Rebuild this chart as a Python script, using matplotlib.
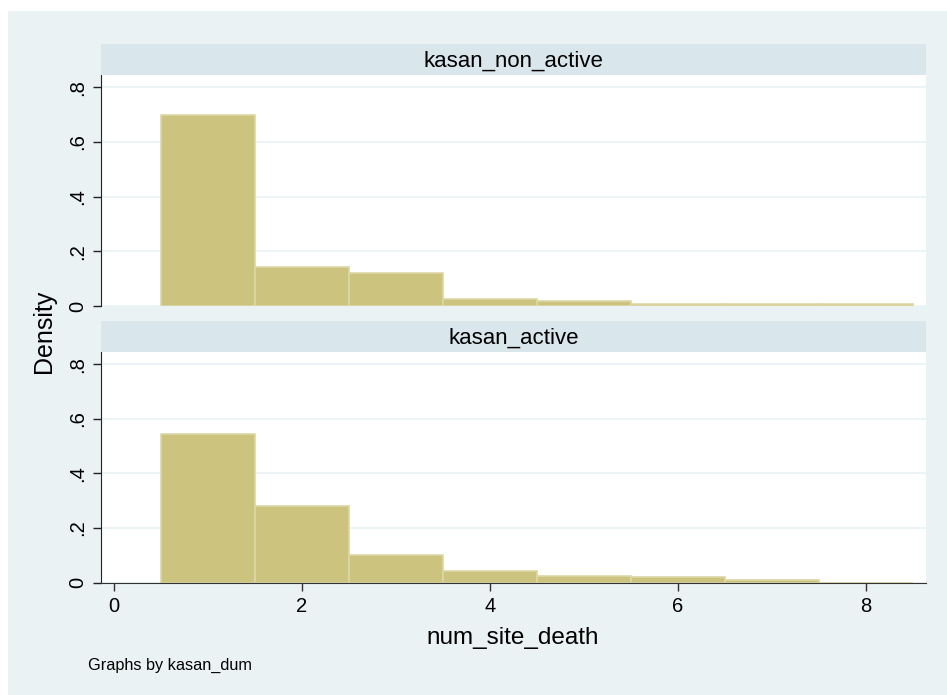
import numpy as np
import matplotlib.pyplot as plt
from matplotlib.patches import Rectangle

# histogram data (density per unit-width bin)
bin_centers = [1, 2, 3, 4, 5, 6, 7, 8]
non_active = [0.697, 0.141, 0.119, 0.027, 0.017, 0.009, 0.008, 0.006]
active = [0.543, 0.280, 0.101, 0.044, 0.023, 0.020, 0.010, 0.0]
panel_titles = ["kasan_non_active", "kasan_active"]
y_ticks = [0, 0.2, 0.4, 0.6, 0.8]
y_labels = ["0", ".2", ".4", ".6", ".8"]
x_ticks = [0, 2, 4, 6, 8]

plt.rcParams['font.family'] = ['Liberation Sans', 'DejaVu Sans']

bg = '#EAF2F3'
strip_col = '#D9E6EB'
bar_col = '#CBC37E'
edge_col = '#DDD7A6'

W, H = 947, 695
fig = plt.figure(figsize=(W / 100, H / 100), dpi=100)
fig.patch.set_facecolor(bg)
# thin white margins on the top and left
fig.patches.append(Rectangle((0, 1 - 11 / H), 1, 11 / H, transform=fig.transFigure,
                             facecolor='white', edgecolor='none', zorder=-10))
fig.patches.append(Rectangle((0, 0), 8 / W, 1, transform=fig.transFigure,
                             facecolor='white', edgecolor='none', zorder=-10))


def px(x0, y0, x1, y1):
    # pixel box (top-left origin) -> figure fraction
    return [x0 / W, 1 - y1 / H, (x1 - x0) / W, (y1 - y0) / H]


panels = [(non_active, (75, 306), (44, 75)), (active, (352, 582.7), (321, 352))]
for i, (vals, (ay0, ay1), (sy0, sy1)) in enumerate(panels):
    ax = fig.add_axes(px(101, ay0, 926, ay1))
    ax.set_facecolor('white')
    ax.bar(bin_centers, vals, width=1.0, color=bar_col, edgecolor=edge_col,
           linewidth=1.2, zorder=2)
    ax.set_xlim(-0.138, 8.638)
    ax.set_ylim(0, 0.845)
    ax.set_yticks(y_ticks)
    ax.set_yticklabels(y_labels, rotation=90, va='center', fontsize=14.5)
    for t in y_ticks:
        ax.axhline(t, color=bg, lw=1.2, zorder=1)
    for s in ['top', 'right']:
        ax.spines[s].set_visible(False)
    ax.spines['left'].set_color('#222222')
    ax.tick_params(axis='y', length=6, width=1, pad=4, color='#222222')
    if i == 0:
        ax.spines['bottom'].set_visible(False)
        ax.set_xticks([])
    else:
        ax.spines['bottom'].set_color('#333333')
        ax.set_xticks(x_ticks)
        ax.tick_params(axis='x', length=6, width=1, labelsize=14.5, pad=4,
                       color='#333333')

    sax = fig.add_axes(px(101, sy0, 926, sy1))
    sax.set_facecolor(strip_col)
    sax.set_xticks([])
    sax.set_yticks([])
    for s in sax.spines.values():
        s.set_visible(False)
    sax.text(0.5, 0.45, panel_titles[i], ha='center', va='center', fontsize=16,
             transform=sax.transAxes)

fig.text(513 / W, 1 - 638 / H, 'num_site_death', ha='center', va='center',
         fontsize=17.5)
fig.text(44 / W, 1 - 331 / H, 'Density', rotation=90, ha='center', va='center',
         fontsize=18)
fig.text(88 / W, 1 - 665 / H, 'Graphs by kasan_dum', ha='left', va='center',
         fontsize=11.7)

fig.savefig('out.png', dpi=100, facecolor=fig.get_facecolor())
